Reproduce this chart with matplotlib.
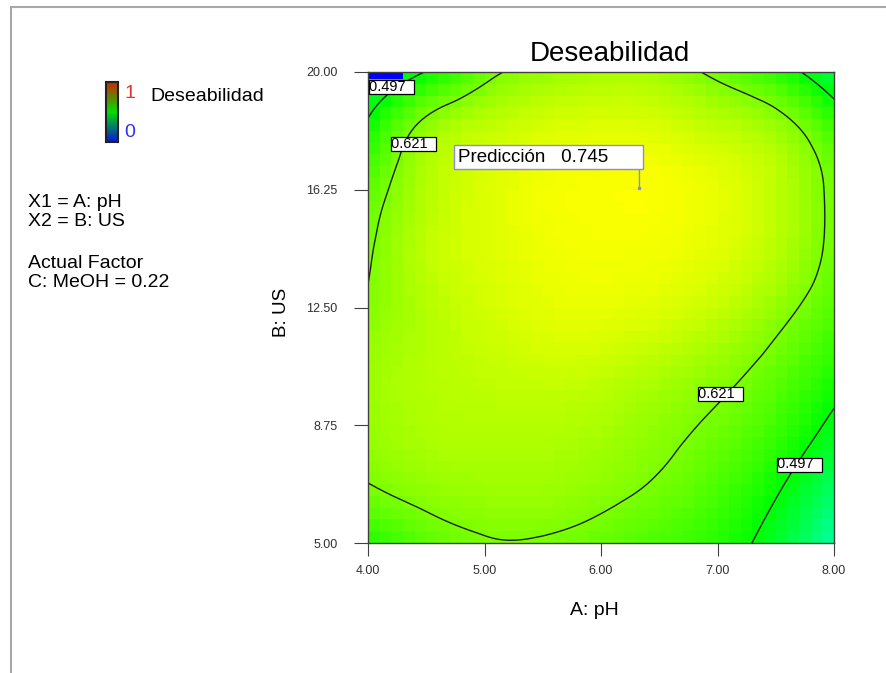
import numpy as np
import matplotlib
matplotlib.use('Agg')
import matplotlib.pyplot as plt
import matplotlib.tri as mtri
from matplotlib.colors import LinearSegmentedColormap
from matplotlib.lines import Line2D

plt.rcParams['font.family'] = ['Liberation Sans', 'DejaVu Sans']

# factor levels of the read grid
ph_levels = [4.0, 4.5, 5.0, 5.5, 6.0, 6.5, 7.0, 7.5, 8.0]
us_levels = [5.0, 6.875, 8.75, 10.625, 12.5, 14.375, 16.25, 18.125, 20.0]

# desirability, one row per US level (bottom to top)
desirability = [
    [0.530, 0.585, 0.615, 0.615, 0.598, 0.570, 0.535, 0.460, 0.340],
    [0.620, 0.645, 0.655, 0.655, 0.640, 0.615, 0.575, 0.510, 0.410],
    [0.645, 0.670, 0.675, 0.675, 0.665, 0.640, 0.610, 0.560, 0.480],
    [0.650, 0.675, 0.690, 0.700, 0.695, 0.675, 0.645, 0.600, 0.535],
    [0.628, 0.675, 0.705, 0.722, 0.727, 0.717, 0.692, 0.645, 0.580],
    [0.612, 0.685, 0.715, 0.733, 0.740, 0.737, 0.720, 0.680, 0.605],
    [0.585, 0.675, 0.715, 0.737, 0.745, 0.745, 0.725, 0.685, 0.605],
    [0.515, 0.645, 0.690, 0.712, 0.720, 0.715, 0.690, 0.655, 0.560],
    [0.420, 0.500, 0.600, 0.645, 0.662, 0.655, 0.605, 0.540, 0.425],
]

# small infeasible patch (desirability 0) in the top-left corner
zero_ph = [4.0, 4.3]
zero_us = [19.78, 20.0]

contour_levels = [0.497, 0.621]
# contour label positions (pH, US, text)
label_ph = [4.01, 4.20, 6.83, 7.51]
label_us = [19.52, 17.72, 9.76, 7.50]
label_txt = ['0.497', '0.621', '0.621', '0.497']

pred_ph, pred_us, pred_val = 6.33, 16.31, 0.745

x_ticks = [4.0, 5.0, 6.0, 7.0, 8.0]
y_ticks = [5.0, 8.75, 12.5, 16.25, 20.0]

de_cmap = LinearSegmentedColormap.from_list('de', ['#0000ff', '#00ffff', '#00ff00', '#ffff00', '#ff0000'])
legend_cmap = LinearSegmentedColormap.from_list('leg', ['#0018d8', '#00e000', '#c82800'])

fig = plt.figure(figsize=(8.86, 6.73), dpi=100)
W, H = 886, 673

ax = fig.add_axes([368 / W, 1 - 543 / H, 466 / W, 471 / H])

# grid -> triangulation, smoothed by matplotlib's cubic interpolator
PH, US = np.meshgrid(ph_levels, us_levels)
Z = np.array(desirability)
tri = mtri.Triangulation(PH.ravel(), US.ravel())
interp = mtri.CubicTriInterpolator(tri, Z.ravel(), kind='min_E')

# cell-shaded field like the original
n_cells = 40
ex = np.linspace(ph_levels[0], ph_levels[-1], n_cells + 1)
ey = np.linspace(us_levels[0], us_levels[-1], n_cells + 1)
cx, cy = np.meshgrid((ex[:-1] + ex[1:]) / 2, (ey[:-1] + ey[1:]) / 2)
field = interp(cx, cy)
ax.pcolormesh(ex, ey, field, cmap=de_cmap, vmin=0, vmax=1, shading='flat')
ax.pcolormesh(zero_ph, zero_us, np.zeros((1, 1)), cmap=de_cmap, vmin=0, vmax=1)

refiner = mtri.UniformTriRefiner(tri)
tri_f, z_f = refiner.refine_field(Z.ravel(), triinterpolator=interp, subdiv=4)
ax.tricontour(tri_f, z_f, levels=contour_levels, colors='#1e1e1e', linewidths=1.0)

for lx, ly, lt in zip(label_ph, label_us, label_txt):
    ax.text(lx, ly, lt + '  ', ha='left', va='center', fontsize=10.5, zorder=5,
            bbox=dict(boxstyle='square,pad=0.0', fc='white', ec='black', lw=0.9))

ax.annotate('Predicción   %.3f      ' % pred_val, xy=(pred_ph, pred_us),
            xytext=(0, 16), textcoords='offset points', ha='right', va='bottom',
            fontsize=13.5, zorder=6,
            bbox=dict(boxstyle='square,pad=0.2', fc='white', ec='#8c8cd8', lw=1.0),
            arrowprops=dict(arrowstyle='-', color='#8c8cd8', lw=1.0, relpos=(1, 0),
                            shrinkA=0, shrinkB=0))
ax.plot([pred_ph], [pred_us], marker='s', ms=2, color='#8c8cd8', zorder=6)

ax.set_xlim(ph_levels[0], ph_levels[-1])
ax.set_ylim(us_levels[0], us_levels[-1])
ax.set_xticks(x_ticks)
ax.set_xticklabels(['%.2f' % v for v in x_ticks])
ax.set_yticks(y_ticks)
ax.set_yticklabels(['%.2f' % v for v in y_ticks])
ax.tick_params(axis='both', labelsize=9, colors='#404040', labelcolor='#303030')
ax.tick_params(axis='x', length=9, pad=7)
ax.tick_params(axis='y', length=10, pad=12)
for s in ax.spines.values():
    s.set_color('#404040')
    s.set_linewidth(1.0)

fig.text(610 / W, 1 - 61 / H, 'Deseabilidad', ha='center', va='baseline', fontsize=20)
fig.text(594 / W, 1 - 615 / H, 'A: pH', ha='center', va='baseline', fontsize=14)
fig.text(281 / W, 1 - 312 / H, 'B: US', ha='center', va='center', rotation=90, fontsize=13.5)

# side legend
cax = fig.add_axes([106 / W, 1 - 142 / H, 12 / W, 60 / H])
cax.imshow(np.linspace(1, 0, 50)[:, None], cmap=legend_cmap, aspect='auto')
cax.set_xticks([])
cax.set_yticks([])
for s in cax.spines.values():
    s.set_linewidth(1.5)
    s.set_color('#202020')
fig.text(124 / W, 1 - 98 / H, '1', color='#e83030', fontsize=14, va='baseline')
fig.text(124 / W, 1 - 137 / H, '0', color='#3030f0', fontsize=14, va='baseline')
fig.text(150 / W, 1 - 101 / H, 'Deseabilidad', fontsize=14, va='baseline')

info_lines = ['X1 = A: pH', 'X2 = B: US', 'Actual Factor', 'C: MeOH = 0.22']
info_base = [207, 226, 268, 287]
for t, b in zip(info_lines, info_base):
    fig.text(28 / W, 1 - b / H, t, fontsize=14, va='baseline')

# outer frame lines of the original window
fig.add_artist(Line2D([11 / W, 1], [1 - 7 / H, 1 - 7 / H], color='#a8a8a8', lw=1.5))
fig.add_artist(Line2D([11 / W, 11 / W], [0, 1 - 7 / H], color='#a8a8a8', lw=1.5))

fig.savefig('out.png', dpi=100)
